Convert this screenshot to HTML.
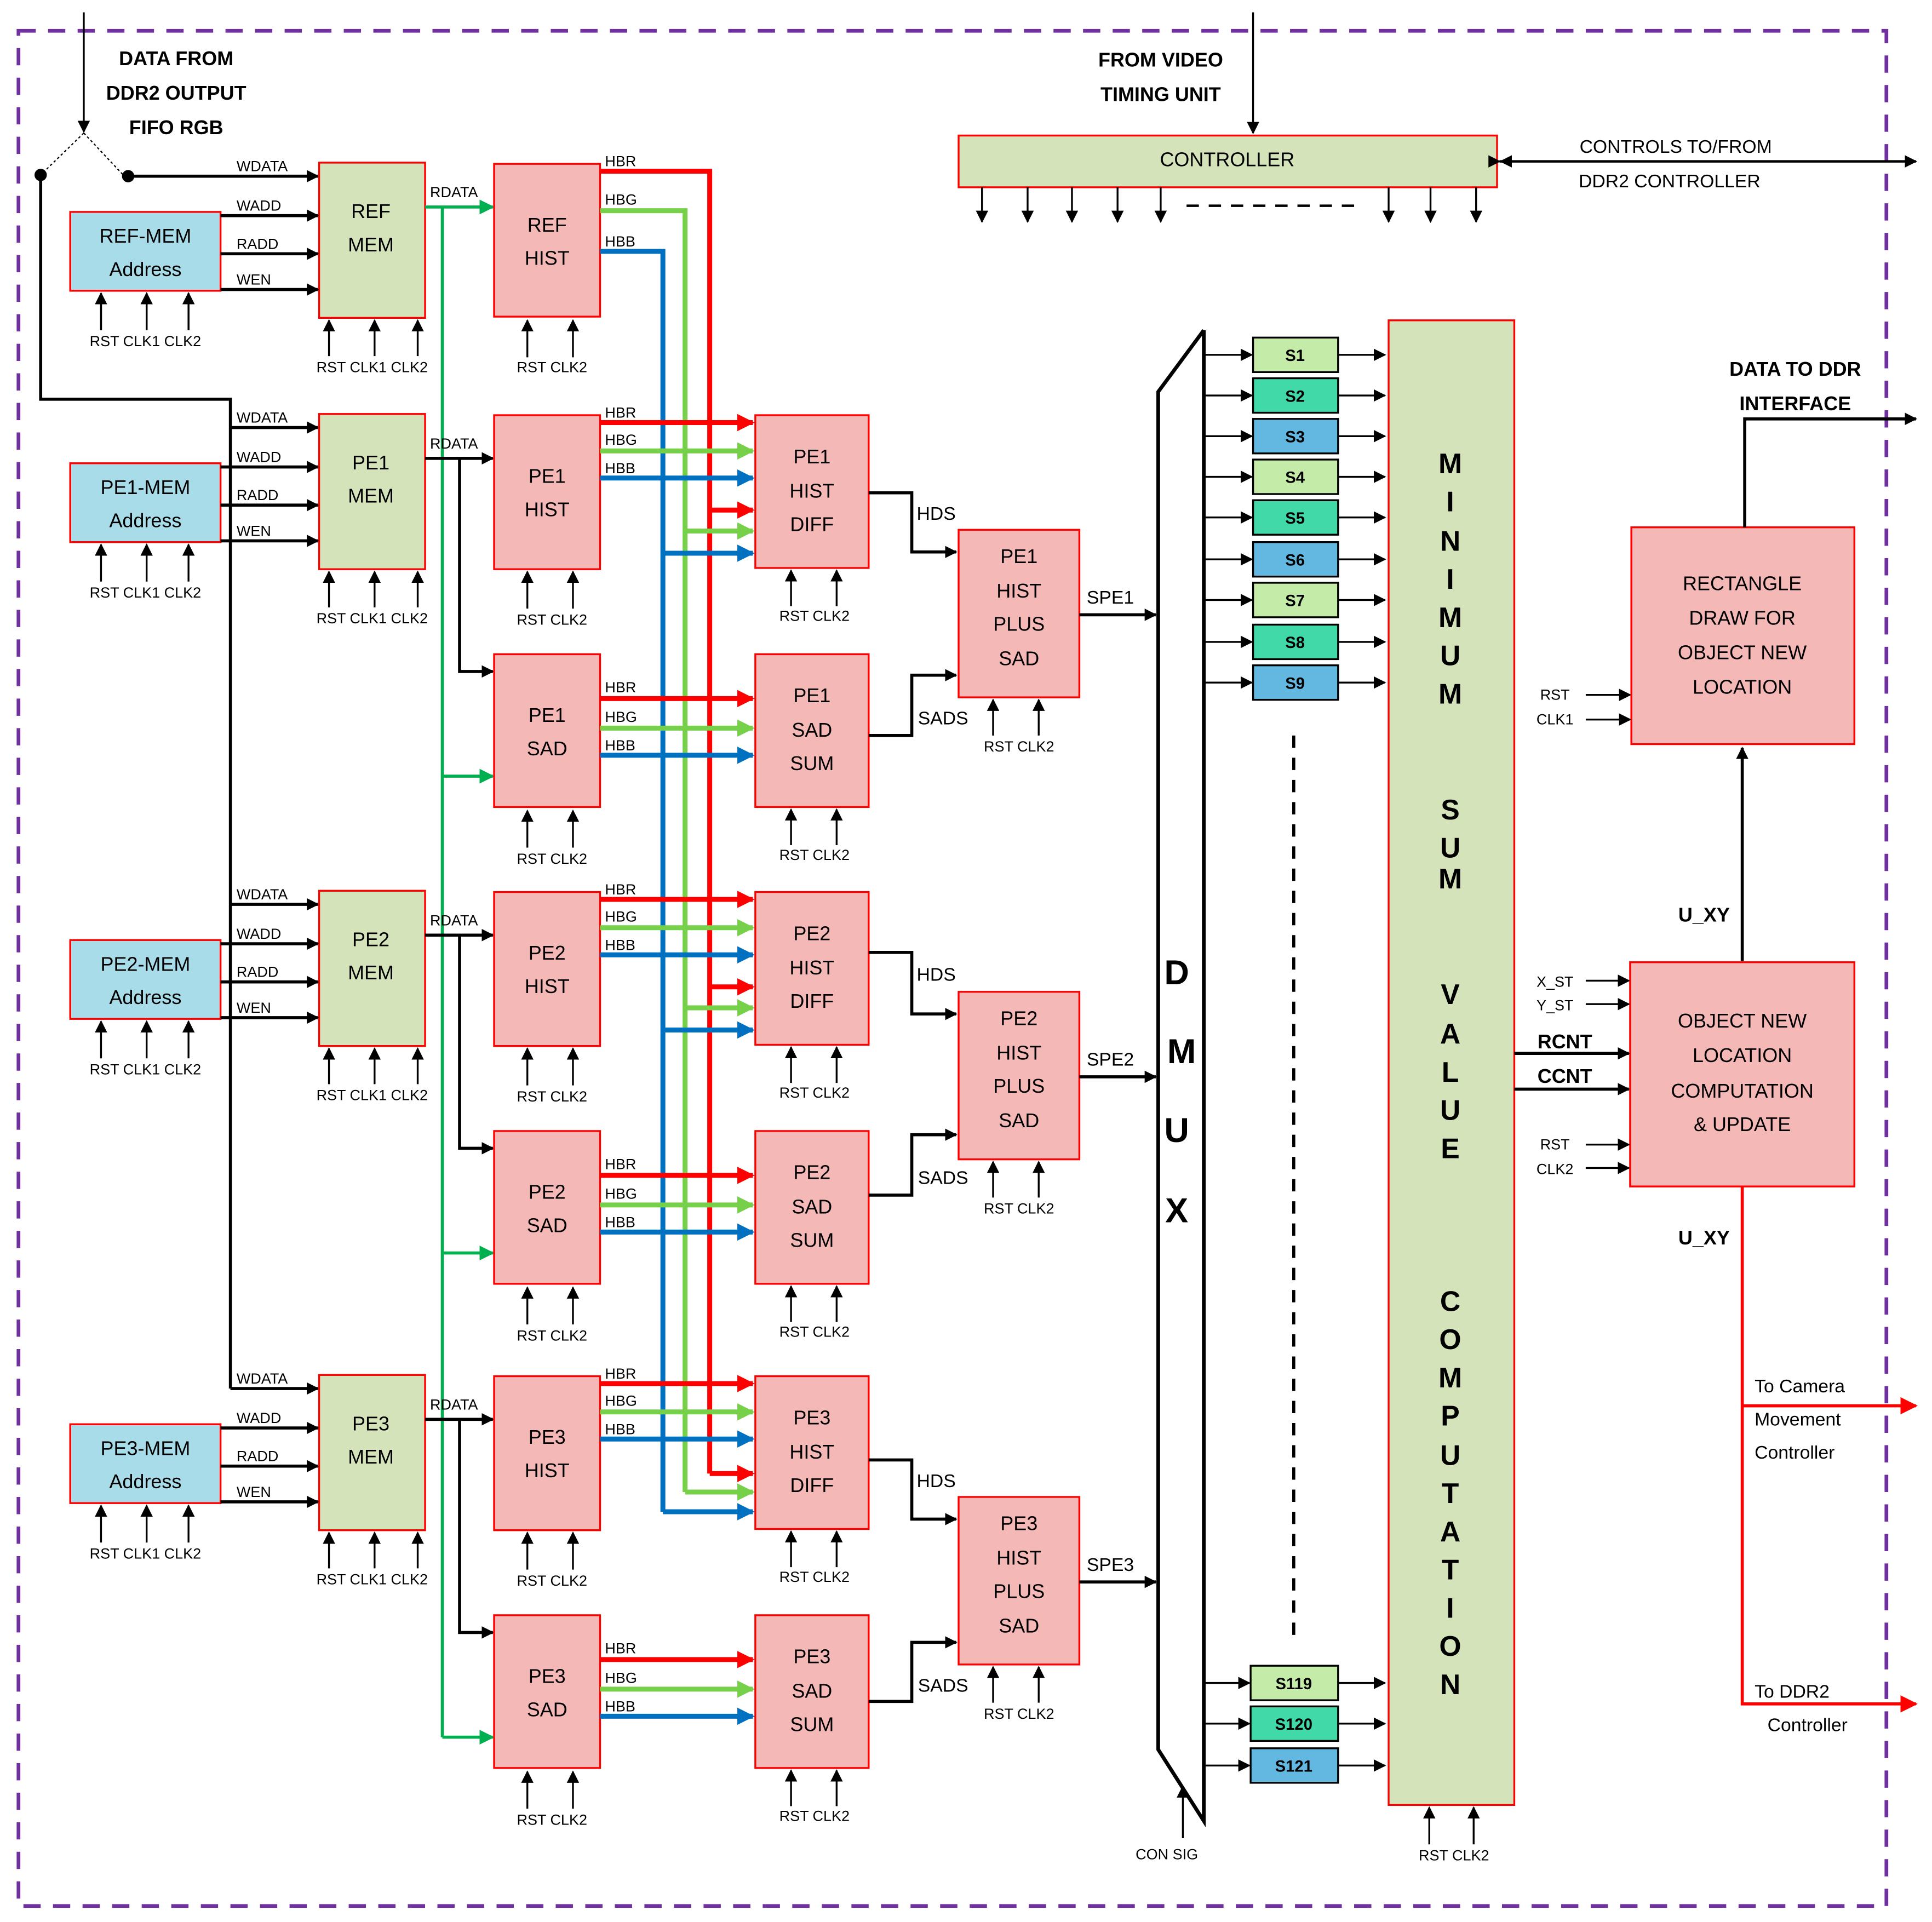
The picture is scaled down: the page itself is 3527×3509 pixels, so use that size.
<!DOCTYPE html>
<html><head><meta charset="utf-8"><style>
html,body{margin:0;padding:0;background:#fff;}
svg{display:block;}
text{font-family:"Liberation Sans",sans-serif;fill:#000;}
.b{font-size:16px;text-anchor:middle;}
.s{font-size:12px;}
.sc{font-size:12px;text-anchor:middle;}
.h{font-size:16px;font-weight:bold;text-anchor:middle;}
.k{stroke:#000;stroke-width:2.5;fill:none;}
.t{stroke:#000;stroke-width:1.5;fill:none;}
.gm{fill:#D4E3BA;stroke:#f00;stroke-width:1.5;}
.pk{fill:#F4B8B6;stroke:#f00;stroke-width:1.5;}
.ad{fill:#A8DCE8;stroke:#f00;stroke-width:1.5;}
.R{stroke:#f00;stroke-width:4;fill:none;}
.G{stroke:#76D04A;stroke-width:4;fill:none;}
.B{stroke:#0070C0;stroke-width:4;fill:none;}
.D{stroke:#00B050;stroke-width:2.5;fill:none;}
</style></head><body>
<svg width="3527" height="3509" viewBox="0 0 1568 1560" xmlns="http://www.w3.org/2000/svg">
<defs>
<marker id="a" viewBox="0 0 10 10" refX="9" refY="5" markerWidth="10" markerHeight="10" markerUnits="userSpaceOnUse" orient="auto"><path d="M0,0L10,5L0,10z" fill="#000"/></marker>
<marker id="r" viewBox="0 0 10 10" refX="9" refY="5" markerWidth="14" markerHeight="14" markerUnits="userSpaceOnUse" orient="auto"><path d="M0,0L10,5L0,10z" fill="#f00"/></marker>
<marker id="g" viewBox="0 0 10 10" refX="9" refY="5" markerWidth="14" markerHeight="14" markerUnits="userSpaceOnUse" orient="auto"><path d="M0,0L10,5L0,10z" fill="#76D04A"/></marker>
<marker id="bl" viewBox="0 0 10 10" refX="9" refY="5" markerWidth="14" markerHeight="14" markerUnits="userSpaceOnUse" orient="auto"><path d="M0,0L10,5L0,10z" fill="#0070C0"/></marker>
<marker id="d" viewBox="0 0 10 10" refX="9" refY="5" markerWidth="12" markerHeight="12" markerUnits="userSpaceOnUse" orient="auto"><path d="M0,0L10,5L0,10z" fill="#00B050"/></marker>
</defs>
<rect width="1568" height="1560" fill="#fff"/>
<rect x="15" y="25" width="1516" height="1522" fill="none" stroke="#7030A0" stroke-width="3" stroke-dasharray="14 10"/>

<!-- input -->
<line class="t" x1="68" y1="10" x2="68" y2="107" marker-end="url(#a)"/>
<text class="h" x="143" y="53">DATA FROM</text>
<text class="h" x="143" y="81">DDR2 OUTPUT</text>
<text class="h" x="143" y="109">FIFO RGB</text>
<path d="M68,108L33,142M68,108L100,142" stroke="#000" stroke-width="1" stroke-dasharray="2 2" fill="none"/>
<circle cx="33" cy="142" r="5"/><circle cx="104" cy="143" r="5"/>
<line class="k" x1="104" y1="143" x2="258" y2="143" marker-end="url(#a)"/>
<polyline class="k" points="33,142 33,324 187,324 187,1127"/>

<!-- REF row -->
<rect class="ad" x="57" y="172" width="122" height="64"/>
<text class="b" x="118" y="197">REF-MEM</text><text class="b" x="118" y="224">Address</text>
<rect class="gm" x="259" y="132" width="86" height="126"/>
<text class="b" x="301" y="177">REF</text><text class="b" x="301" y="204">MEM</text>
<text class="s" x="192" y="139">WDATA</text>
<line class="k" x1="179" y1="175" x2="258" y2="175" marker-end="url(#a)"/><text class="s" x="192" y="171">WADD</text>
<line class="k" x1="179" y1="206" x2="258" y2="206" marker-end="url(#a)"/><text class="s" x="192" y="202">RADD</text>
<line class="k" x1="179" y1="235" x2="258" y2="235" marker-end="url(#a)"/><text class="s" x="192" y="231">WEN</text>
<path class="t" d="M82,268V238M119,268V238M153,268V238" marker-end="url(#a)"/>
<line class="t" x1="82" y1="268" x2="82" y2="238" marker-end="url(#a)"/><line class="t" x1="119" y1="268" x2="119" y2="238" marker-end="url(#a)"/><line class="t" x1="153" y1="268" x2="153" y2="238" marker-end="url(#a)"/>
<text class="sc" x="118" y="281">RST CLK1 CLK2</text>
<line class="t" x1="267" y1="289" x2="267" y2="260" marker-end="url(#a)"/><line class="t" x1="304" y1="289" x2="304" y2="260" marker-end="url(#a)"/><line class="t" x1="339" y1="289" x2="339" y2="260" marker-end="url(#a)"/>
<text class="sc" x="302" y="302">RST CLK1 CLK2</text>
<line class="D" x1="345" y1="168" x2="400" y2="168" marker-end="url(#d)"/>
<text class="s" x="349" y="160">RDATA</text>
<line class="D" x1="359" y1="168" x2="359" y2="1410"/>
<line class="D" x1="359" y1="630" x2="400" y2="630" marker-end="url(#d)"/>
<line class="D" x1="359" y1="1017" x2="400" y2="1017" marker-end="url(#d)"/>
<line class="D" x1="359" y1="1410" x2="400" y2="1410" marker-end="url(#d)"/>
<rect class="pk" x="401" y="133" width="86" height="124"/>
<text class="b" x="444" y="188">REF</text><text class="b" x="444" y="215">HIST</text>
<line class="t" x1="428" y1="290" x2="428" y2="260" marker-end="url(#a)"/><line class="t" x1="465" y1="290" x2="465" y2="260" marker-end="url(#a)"/>
<text class="sc" x="448" y="302">RST CLK2</text>
<polyline class="R" points="487,139 576,139 576,1196"/>
<polyline class="G" points="487,171 556,171 556,1211"/>
<polyline class="B" points="487,204 538,204 538,1227"/>
<text class="s" x="491" y="135">HBR</text><text class="s" x="491" y="166">HBG</text><text class="s" x="491" y="200">HBB</text>

<!-- PE rows -->
<g id="pe1">
<line class="k" x1="187" y1="347" x2="258" y2="347" marker-end="url(#a)"/><text class="s" x="192" y="343">WDATA</text>
<rect class="ad" x="57" y="376" width="122" height="64"/>
<text class="b" x="118" y="401">PE1-MEM</text><text class="b" x="118" y="428">Address</text>
<rect class="gm" x="259" y="336" width="86" height="126"/>
<text class="b" x="301" y="381">PE1</text><text class="b" x="301" y="408">MEM</text>
<line class="k" x1="179" y1="379" x2="258" y2="379" marker-end="url(#a)"/><text class="s" x="192" y="375">WADD</text>
<line class="k" x1="179" y1="410" x2="258" y2="410" marker-end="url(#a)"/><text class="s" x="192" y="406">RADD</text>
<line class="k" x1="179" y1="439" x2="258" y2="439" marker-end="url(#a)"/><text class="s" x="192" y="435">WEN</text>
<line class="t" x1="82" y1="472" x2="82" y2="442" marker-end="url(#a)"/><line class="t" x1="119" y1="472" x2="119" y2="442" marker-end="url(#a)"/><line class="t" x1="153" y1="472" x2="153" y2="442" marker-end="url(#a)"/>
<text class="sc" x="118" y="485">RST CLK1 CLK2</text>
<line class="t" x1="267" y1="493" x2="267" y2="464" marker-end="url(#a)"/><line class="t" x1="304" y1="493" x2="304" y2="464" marker-end="url(#a)"/><line class="t" x1="339" y1="493" x2="339" y2="464" marker-end="url(#a)"/>
<text class="sc" x="302" y="506">RST CLK1 CLK2</text>
<line class="k" x1="345" y1="372" x2="400" y2="372" marker-end="url(#a)"/><text class="s" x="349" y="364">RDATA</text>
<polyline class="k" points="373,372 373,545 400,545" marker-end="url(#a)"/>
<rect class="pk" x="401" y="337" width="86" height="125"/>
<text class="b" x="444" y="392">PE1</text><text class="b" x="444" y="419">HIST</text>
<line class="t" x1="428" y1="494" x2="428" y2="464" marker-end="url(#a)"/><line class="t" x1="465" y1="494" x2="465" y2="464" marker-end="url(#a)"/>
<text class="sc" x="448" y="507">RST CLK2</text>
<rect class="pk" x="401" y="531" width="86" height="124"/>
<text class="b" x="444" y="586">PE1</text><text class="b" x="444" y="613">SAD</text>
<line class="t" x1="428" y1="688" x2="428" y2="658" marker-end="url(#a)"/><line class="t" x1="465" y1="688" x2="465" y2="658" marker-end="url(#a)"/>
<text class="sc" x="448" y="701">RST CLK2</text>
<line class="R" x1="487" y1="343" x2="611" y2="343" marker-end="url(#r)"/>
<line class="G" x1="487" y1="366" x2="611" y2="366" marker-end="url(#g)"/>
<line class="B" x1="487" y1="388" x2="611" y2="388" marker-end="url(#bl)"/>
<text class="s" x="491" y="339">HBR</text><text class="s" x="491" y="361">HBG</text><text class="s" x="491" y="384">HBB</text>
<line class="R" x1="487" y1="567" x2="611" y2="567" marker-end="url(#r)"/>
<line class="G" x1="487" y1="591" x2="611" y2="591" marker-end="url(#g)"/>
<line class="B" x1="487" y1="613" x2="611" y2="613" marker-end="url(#bl)"/>
<text class="s" x="491" y="562">HBR</text><text class="s" x="491" y="586">HBG</text><text class="s" x="491" y="609">HBB</text>
<line class="R" x1="576" y1="414" x2="611" y2="414" marker-end="url(#r)"/>
<line class="G" x1="556" y1="431" x2="611" y2="431" marker-end="url(#g)"/>
<line class="B" x1="538" y1="449" x2="611" y2="449" marker-end="url(#bl)"/>
<rect class="pk" x="613" y="337" width="92" height="124"/>
<text class="b" x="659" y="376">PE1</text><text class="b" x="659" y="404">HIST</text><text class="b" x="659" y="431">DIFF</text>
<line class="t" x1="642" y1="492" x2="642" y2="463" marker-end="url(#a)"/><line class="t" x1="679" y1="492" x2="679" y2="463" marker-end="url(#a)"/>
<text class="sc" x="661" y="504">RST CLK2</text>
<rect class="pk" x="613" y="531" width="92" height="124"/>
<text class="b" x="659" y="570">PE1</text><text class="b" x="659" y="598">SAD</text><text class="b" x="659" y="625">SUM</text>
<line class="t" x1="642" y1="686" x2="642" y2="657" marker-end="url(#a)"/><line class="t" x1="679" y1="686" x2="679" y2="657" marker-end="url(#a)"/>
<text class="sc" x="661" y="698">RST CLK2</text>
<polyline class="k" points="705,400 740,400 740,448 776,448" marker-end="url(#a)"/><text class="s" x="744" y="422" style="font-size:15px">HDS</text>
<polyline class="k" points="705,597 740,597 740,548 776,548" marker-end="url(#a)"/><text class="s" x="745" y="588" style="font-size:15px">SADS</text>
<rect class="pk" x="778" y="430" width="98" height="136"/>
<text class="b" x="827" y="457">PE1</text><text class="b" x="827" y="485">HIST</text><text class="b" x="827" y="512">PLUS</text><text class="b" x="827" y="540">SAD</text>
<line class="t" x1="806" y1="597" x2="806" y2="568" marker-end="url(#a)"/><line class="t" x1="843" y1="597" x2="843" y2="568" marker-end="url(#a)"/>
<text class="sc" x="827" y="610">RST CLK2</text>
<line class="k" x1="876" y1="499" x2="938" y2="499" marker-end="url(#a)"/><text class="s" x="882" y="490" style="font-size:15px">SPE1</text>
</g>

<g transform="translate(0,387)">
<line class="k" x1="187" y1="347" x2="258" y2="347" marker-end="url(#a)"/><text class="s" x="192" y="343">WDATA</text>
<rect class="ad" x="57" y="376" width="122" height="64"/>
<text class="b" x="118" y="401">PE2-MEM</text><text class="b" x="118" y="428">Address</text>
<rect class="gm" x="259" y="336" width="86" height="126"/>
<text class="b" x="301" y="381">PE2</text><text class="b" x="301" y="408">MEM</text>
<line class="k" x1="179" y1="379" x2="258" y2="379" marker-end="url(#a)"/><text class="s" x="192" y="375">WADD</text>
<line class="k" x1="179" y1="410" x2="258" y2="410" marker-end="url(#a)"/><text class="s" x="192" y="406">RADD</text>
<line class="k" x1="179" y1="439" x2="258" y2="439" marker-end="url(#a)"/><text class="s" x="192" y="435">WEN</text>
<line class="t" x1="82" y1="472" x2="82" y2="442" marker-end="url(#a)"/><line class="t" x1="119" y1="472" x2="119" y2="442" marker-end="url(#a)"/><line class="t" x1="153" y1="472" x2="153" y2="442" marker-end="url(#a)"/>
<text class="sc" x="118" y="485">RST CLK1 CLK2</text>
<line class="t" x1="267" y1="493" x2="267" y2="464" marker-end="url(#a)"/><line class="t" x1="304" y1="493" x2="304" y2="464" marker-end="url(#a)"/><line class="t" x1="339" y1="493" x2="339" y2="464" marker-end="url(#a)"/>
<text class="sc" x="302" y="506">RST CLK1 CLK2</text>
<line class="k" x1="345" y1="372" x2="400" y2="372" marker-end="url(#a)"/><text class="s" x="349" y="364">RDATA</text>
<polyline class="k" points="373,372 373,545 400,545" marker-end="url(#a)"/>
<rect class="pk" x="401" y="337" width="86" height="125"/>
<text class="b" x="444" y="392">PE2</text><text class="b" x="444" y="419">HIST</text>
<line class="t" x1="428" y1="494" x2="428" y2="464" marker-end="url(#a)"/><line class="t" x1="465" y1="494" x2="465" y2="464" marker-end="url(#a)"/>
<text class="sc" x="448" y="507">RST CLK2</text>
<rect class="pk" x="401" y="531" width="86" height="124"/>
<text class="b" x="444" y="586">PE2</text><text class="b" x="444" y="613">SAD</text>
<line class="t" x1="428" y1="688" x2="428" y2="658" marker-end="url(#a)"/><line class="t" x1="465" y1="688" x2="465" y2="658" marker-end="url(#a)"/>
<text class="sc" x="448" y="701">RST CLK2</text>
<line class="R" x1="487" y1="343" x2="611" y2="343" marker-end="url(#r)"/>
<line class="G" x1="487" y1="366" x2="611" y2="366" marker-end="url(#g)"/>
<line class="B" x1="487" y1="388" x2="611" y2="388" marker-end="url(#bl)"/>
<text class="s" x="491" y="339">HBR</text><text class="s" x="491" y="361">HBG</text><text class="s" x="491" y="384">HBB</text>
<line class="R" x1="487" y1="567" x2="611" y2="567" marker-end="url(#r)"/>
<line class="G" x1="487" y1="591" x2="611" y2="591" marker-end="url(#g)"/>
<line class="B" x1="487" y1="613" x2="611" y2="613" marker-end="url(#bl)"/>
<text class="s" x="491" y="562">HBR</text><text class="s" x="491" y="586">HBG</text><text class="s" x="491" y="609">HBB</text>
<line class="R" x1="576" y1="414" x2="611" y2="414" marker-end="url(#r)"/>
<line class="G" x1="556" y1="431" x2="611" y2="431" marker-end="url(#g)"/>
<line class="B" x1="538" y1="449" x2="611" y2="449" marker-end="url(#bl)"/>
<rect class="pk" x="613" y="337" width="92" height="124"/>
<text class="b" x="659" y="376">PE2</text><text class="b" x="659" y="404">HIST</text><text class="b" x="659" y="431">DIFF</text>
<line class="t" x1="642" y1="492" x2="642" y2="463" marker-end="url(#a)"/><line class="t" x1="679" y1="492" x2="679" y2="463" marker-end="url(#a)"/>
<text class="sc" x="661" y="504">RST CLK2</text>
<rect class="pk" x="613" y="531" width="92" height="124"/>
<text class="b" x="659" y="570">PE2</text><text class="b" x="659" y="598">SAD</text><text class="b" x="659" y="625">SUM</text>
<line class="t" x1="642" y1="686" x2="642" y2="657" marker-end="url(#a)"/><line class="t" x1="679" y1="686" x2="679" y2="657" marker-end="url(#a)"/>
<text class="sc" x="661" y="698">RST CLK2</text>
</g>
<g transform="translate(0,375)">
<polyline class="k" points="705,398 740,398 740,448 776,448" marker-end="url(#a)"/><text class="s" x="744" y="421" style="font-size:15px">HDS</text>
<polyline class="k" points="705,595 740,595 740,546 776,546" marker-end="url(#a)"/><text class="s" x="745" y="586" style="font-size:15px">SADS</text>
<rect class="pk" x="778" y="430" width="98" height="136"/>
<text class="b" x="827" y="457">PE2</text><text class="b" x="827" y="485">HIST</text><text class="b" x="827" y="512">PLUS</text><text class="b" x="827" y="540">SAD</text>
<line class="t" x1="806" y1="597" x2="806" y2="568" marker-end="url(#a)"/><line class="t" x1="843" y1="597" x2="843" y2="568" marker-end="url(#a)"/>
<text class="sc" x="827" y="610">RST CLK2</text>
<line class="k" x1="876" y1="499" x2="938" y2="499" marker-end="url(#a)"/><text class="s" x="882" y="490" style="font-size:15px">SPE2</text>
</g>

<g transform="translate(0,780)">
<line class="k" x1="187" y1="347" x2="258" y2="347" marker-end="url(#a)"/><text class="s" x="192" y="343">WDATA</text>
<rect class="ad" x="57" y="376" width="122" height="64"/>
<text class="b" x="118" y="401">PE3-MEM</text><text class="b" x="118" y="428">Address</text>
<rect class="gm" x="259" y="336" width="86" height="126"/>
<text class="b" x="301" y="381">PE3</text><text class="b" x="301" y="408">MEM</text>
<line class="k" x1="179" y1="379" x2="258" y2="379" marker-end="url(#a)"/><text class="s" x="192" y="375">WADD</text>
<line class="k" x1="179" y1="410" x2="258" y2="410" marker-end="url(#a)"/><text class="s" x="192" y="406">RADD</text>
<line class="k" x1="179" y1="439" x2="258" y2="439" marker-end="url(#a)"/><text class="s" x="192" y="435">WEN</text>
<line class="t" x1="82" y1="472" x2="82" y2="442" marker-end="url(#a)"/><line class="t" x1="119" y1="472" x2="119" y2="442" marker-end="url(#a)"/><line class="t" x1="153" y1="472" x2="153" y2="442" marker-end="url(#a)"/>
<text class="sc" x="118" y="485">RST CLK1 CLK2</text>
<line class="t" x1="267" y1="493" x2="267" y2="464" marker-end="url(#a)"/><line class="t" x1="304" y1="493" x2="304" y2="464" marker-end="url(#a)"/><line class="t" x1="339" y1="493" x2="339" y2="464" marker-end="url(#a)"/>
<text class="sc" x="302" y="506">RST CLK1 CLK2</text>
<line class="k" x1="345" y1="372" x2="400" y2="372" marker-end="url(#a)"/><text class="s" x="349" y="364">RDATA</text>
<polyline class="k" points="373,372 373,545 400,545" marker-end="url(#a)"/>
<rect class="pk" x="401" y="337" width="86" height="125"/>
<text class="b" x="444" y="392">PE3</text><text class="b" x="444" y="419">HIST</text>
<line class="t" x1="428" y1="494" x2="428" y2="464" marker-end="url(#a)"/><line class="t" x1="465" y1="494" x2="465" y2="464" marker-end="url(#a)"/>
<text class="sc" x="448" y="507">RST CLK2</text>
<rect class="pk" x="401" y="531" width="86" height="124"/>
<text class="b" x="444" y="586">PE3</text><text class="b" x="444" y="613">SAD</text>
<line class="t" x1="428" y1="688" x2="428" y2="658" marker-end="url(#a)"/><line class="t" x1="465" y1="688" x2="465" y2="658" marker-end="url(#a)"/>
<text class="sc" x="448" y="701">RST CLK2</text>
<line class="R" x1="487" y1="343" x2="611" y2="343" marker-end="url(#r)"/>
<line class="G" x1="487" y1="366" x2="611" y2="366" marker-end="url(#g)"/>
<line class="B" x1="487" y1="388" x2="611" y2="388" marker-end="url(#bl)"/>
<text class="s" x="491" y="339">HBR</text><text class="s" x="491" y="361">HBG</text><text class="s" x="491" y="384">HBB</text>
<line class="R" x1="487" y1="567" x2="611" y2="567" marker-end="url(#r)"/>
<line class="G" x1="487" y1="591" x2="611" y2="591" marker-end="url(#g)"/>
<line class="B" x1="487" y1="613" x2="611" y2="613" marker-end="url(#bl)"/>
<text class="s" x="491" y="562">HBR</text><text class="s" x="491" y="586">HBG</text><text class="s" x="491" y="609">HBB</text>
<line class="R" x1="576" y1="416" x2="611" y2="416" marker-end="url(#r)"/>
<line class="G" x1="556" y1="431" x2="611" y2="431" marker-end="url(#g)"/>
<line class="B" x1="538" y1="447" x2="611" y2="447" marker-end="url(#bl)"/>
<rect class="pk" x="613" y="337" width="92" height="124"/>
<text class="b" x="659" y="376">PE3</text><text class="b" x="659" y="404">HIST</text><text class="b" x="659" y="431">DIFF</text>
<line class="t" x1="642" y1="492" x2="642" y2="463" marker-end="url(#a)"/><line class="t" x1="679" y1="492" x2="679" y2="463" marker-end="url(#a)"/>
<text class="sc" x="661" y="504">RST CLK2</text>
<rect class="pk" x="613" y="531" width="92" height="124"/>
<text class="b" x="659" y="570">PE3</text><text class="b" x="659" y="598">SAD</text><text class="b" x="659" y="625">SUM</text>
<line class="t" x1="642" y1="686" x2="642" y2="657" marker-end="url(#a)"/><line class="t" x1="679" y1="686" x2="679" y2="657" marker-end="url(#a)"/>
<text class="sc" x="661" y="698">RST CLK2</text>
</g>
<g transform="translate(0,785)">
<polyline class="k" points="705,400 740,400 740,448 776,448" marker-end="url(#a)"/><text class="s" x="744" y="422" style="font-size:15px">HDS</text>
<polyline class="k" points="705,596 740,596 740,548 776,548" marker-end="url(#a)"/><text class="s" x="745" y="588" style="font-size:15px">SADS</text>
<rect class="pk" x="778" y="430" width="98" height="136"/>
<text class="b" x="827" y="457">PE3</text><text class="b" x="827" y="485">HIST</text><text class="b" x="827" y="512">PLUS</text><text class="b" x="827" y="540">SAD</text>
<line class="t" x1="806" y1="597" x2="806" y2="568" marker-end="url(#a)"/><line class="t" x1="843" y1="597" x2="843" y2="568" marker-end="url(#a)"/>
<text class="sc" x="827" y="610">RST CLK2</text>
<line class="k" x1="876" y1="499" x2="938" y2="499" marker-end="url(#a)"/><text class="s" x="882" y="490" style="font-size:15px">SPE3</text>
</g>

<!-- DMUX -->
<polyline points="977,268 940,318 940,1420 977,1478 977,268" fill="none" stroke="#000" stroke-width="3"/>
<text x="955" y="799" style="font-size:28px;font-weight:bold;text-anchor:middle">D</text>
<text x="959" y="863" style="font-size:28px;font-weight:bold;text-anchor:middle">M</text>
<text x="955" y="927" style="font-size:28px;font-weight:bold;text-anchor:middle">U</text>
<text x="955" y="992" style="font-size:28px;font-weight:bold;text-anchor:middle">X</text>
<line class="t" x1="960" y1="1492" x2="960" y2="1450" marker-end="url(#a)"/>
<text class="sc" x="947" y="1509">CON SIG</text>

<!-- S boxes -->
<g font-size="13" font-weight="bold">
<rect x="1017" y="274" width="69" height="28" fill="#C5EBA8" stroke="#000" stroke-width="1.5"/><text x="1051" y="293" text-anchor="middle">S1</text>
<rect x="1017" y="307" width="69" height="28" fill="#42D9A8" stroke="#000" stroke-width="1.5"/><text x="1051" y="326" text-anchor="middle">S2</text>
<rect x="1017" y="340" width="69" height="28" fill="#63B8E2" stroke="#000" stroke-width="1.5"/><text x="1051" y="359" text-anchor="middle">S3</text>
<rect x="1017" y="373" width="69" height="28" fill="#C5EBA8" stroke="#000" stroke-width="1.5"/><text x="1051" y="392" text-anchor="middle">S4</text>
<rect x="1017" y="406" width="69" height="28" fill="#42D9A8" stroke="#000" stroke-width="1.5"/><text x="1051" y="425" text-anchor="middle">S5</text>
<rect x="1017" y="440" width="69" height="28" fill="#63B8E2" stroke="#000" stroke-width="1.5"/><text x="1051" y="459" text-anchor="middle">S6</text>
<rect x="1017" y="473" width="69" height="28" fill="#C5EBA8" stroke="#000" stroke-width="1.5"/><text x="1051" y="492" text-anchor="middle">S7</text>
<rect x="1017" y="507" width="69" height="28" fill="#42D9A8" stroke="#000" stroke-width="1.5"/><text x="1051" y="526" text-anchor="middle">S8</text>
<rect x="1017" y="540" width="69" height="28" fill="#63B8E2" stroke="#000" stroke-width="1.5"/><text x="1051" y="559" text-anchor="middle">S9</text>
<rect x="1015" y="1352" width="71" height="28" fill="#C5EBA8" stroke="#000" stroke-width="1.5"/><text x="1050" y="1371" text-anchor="middle">S119</text>
<rect x="1015" y="1385" width="71" height="28" fill="#42D9A8" stroke="#000" stroke-width="1.5"/><text x="1050" y="1404" text-anchor="middle">S120</text>
<rect x="1015" y="1419" width="71" height="28" fill="#63B8E2" stroke="#000" stroke-width="1.5"/><text x="1050" y="1438" text-anchor="middle">S121</text>
</g>
<g class="t">
<line x1="977" y1="288" x2="1016" y2="288" marker-end="url(#a)"/><line x1="1086" y1="288" x2="1124" y2="288" marker-end="url(#a)"/>
<line x1="977" y1="321" x2="1016" y2="321" marker-end="url(#a)"/><line x1="1086" y1="321" x2="1124" y2="321" marker-end="url(#a)"/>
<line x1="977" y1="354" x2="1016" y2="354" marker-end="url(#a)"/><line x1="1086" y1="354" x2="1124" y2="354" marker-end="url(#a)"/>
<line x1="977" y1="387" x2="1016" y2="387" marker-end="url(#a)"/><line x1="1086" y1="387" x2="1124" y2="387" marker-end="url(#a)"/>
<line x1="977" y1="420" x2="1016" y2="420" marker-end="url(#a)"/><line x1="1086" y1="420" x2="1124" y2="420" marker-end="url(#a)"/>
<line x1="977" y1="454" x2="1016" y2="454" marker-end="url(#a)"/><line x1="1086" y1="454" x2="1124" y2="454" marker-end="url(#a)"/>
<line x1="977" y1="487" x2="1016" y2="487" marker-end="url(#a)"/><line x1="1086" y1="487" x2="1124" y2="487" marker-end="url(#a)"/>
<line x1="977" y1="521" x2="1016" y2="521" marker-end="url(#a)"/><line x1="1086" y1="521" x2="1124" y2="521" marker-end="url(#a)"/>
<line x1="977" y1="554" x2="1016" y2="554" marker-end="url(#a)"/><line x1="1086" y1="554" x2="1124" y2="554" marker-end="url(#a)"/>
<line x1="977" y1="1366" x2="1014" y2="1366" marker-end="url(#a)"/><line x1="1086" y1="1366" x2="1124" y2="1366" marker-end="url(#a)"/>
<line x1="977" y1="1399" x2="1014" y2="1399" marker-end="url(#a)"/><line x1="1086" y1="1399" x2="1124" y2="1399" marker-end="url(#a)"/>
<line x1="977" y1="1433" x2="1014" y2="1433" marker-end="url(#a)"/><line x1="1086" y1="1433" x2="1124" y2="1433" marker-end="url(#a)"/>
</g>
<line x1="1050" y1="597" x2="1050" y2="1330" stroke="#000" stroke-width="2.5" stroke-dasharray="10 8"/>

<!-- minimum sum -->
<rect class="gm" x="1127" y="260" width="102" height="1205"/>
<g style="font-size:23px;font-weight:bold;text-anchor:middle">
<text x="1177" y="384">M</text><text x="1177" y="415">I</text><text x="1177" y="447">N</text><text x="1177" y="478">I</text><text x="1177" y="509">M</text><text x="1177" y="540">U</text><text x="1177" y="571">M</text>
<text x="1177" y="665">S</text><text x="1177" y="696">U</text><text x="1177" y="721">M</text>
<text x="1177" y="815">V</text><text x="1177" y="847">A</text><text x="1177" y="878">L</text><text x="1177" y="909">U</text><text x="1177" y="940">E</text>
<text x="1177" y="1064">C</text><text x="1177" y="1095">O</text><text x="1177" y="1126">M</text><text x="1177" y="1157">P</text><text x="1177" y="1189">U</text><text x="1177" y="1220">T</text><text x="1177" y="1251">A</text><text x="1177" y="1282">T</text><text x="1177" y="1313">I</text><text x="1177" y="1344">O</text><text x="1177" y="1375">N</text>
</g>
<line class="t" x1="1160" y1="1497" x2="1160" y2="1467" marker-end="url(#a)"/><line class="t" x1="1196" y1="1497" x2="1196" y2="1467" marker-end="url(#a)"/>
<text class="sc" x="1180" y="1510">RST CLK2</text>

<!-- controller -->
<line class="t" x1="1017" y1="10" x2="1017" y2="108" marker-end="url(#a)"/>
<text class="h" x="942" y="54">FROM VIDEO</text><text class="h" x="942" y="82">TIMING UNIT</text>
<rect class="gm" x="778" y="110" width="437" height="42"/>
<text class="b" x="996" y="135">CONTROLLER</text>
<g class="t">
<line x1="797" y1="152" x2="797" y2="180" marker-end="url(#a)"/><line x1="834" y1="152" x2="834" y2="180" marker-end="url(#a)"/><line x1="870" y1="152" x2="870" y2="180" marker-end="url(#a)"/><line x1="907" y1="152" x2="907" y2="180" marker-end="url(#a)"/><line x1="942" y1="152" x2="942" y2="180" marker-end="url(#a)"/>
<line x1="1127" y1="152" x2="1127" y2="180" marker-end="url(#a)"/><line x1="1161" y1="152" x2="1161" y2="180" marker-end="url(#a)"/><line x1="1198" y1="152" x2="1198" y2="180" marker-end="url(#a)"/>
</g>
<line x1="963" y1="167" x2="1105" y2="167" stroke="#000" stroke-width="2" stroke-dasharray="10 8"/>
<line class="t" x1="1217" y1="131" x2="1555" y2="131" marker-end="url(#a)" marker-start="url(#a)" style="stroke-width:2"/>
<path d="M1217,131l10,-5v10z"/>
<text x="1360" y="124" style="font-size:15px;text-anchor:middle">CONTROLS TO/FROM</text>
<text x="1355" y="152" style="font-size:15px;text-anchor:middle">DDR2 CONTROLLER</text>

<!-- rectangle draw -->
<rect class="pk" x="1324" y="428" width="181" height="176"/>
<text class="b" x="1414" y="479">RECTANGLE</text><text class="b" x="1414" y="507">DRAW FOR</text><text class="b" x="1414" y="535">OBJECT NEW</text><text class="b" x="1414" y="563">LOCATION</text>
<text class="sc" x="1262" y="568">RST</text><text class="sc" x="1262" y="588">CLK1</text>
<line class="t" x1="1287" y1="564" x2="1323" y2="564" marker-end="url(#a)"/><line class="t" x1="1287" y1="584" x2="1323" y2="584" marker-end="url(#a)"/>
<polyline class="k" points="1416,428 1416,340 1555,340" marker-end="url(#a)"/>
<text class="h" x="1457" y="305">DATA TO DDR</text><text class="h" x="1457" y="333">INTERFACE</text>

<!-- object new location -->
<rect class="pk" x="1323" y="781" width="182" height="182"/>
<text class="b" x="1414" y="834">OBJECT NEW</text><text class="b" x="1414" y="862">LOCATION</text><text class="b" x="1414" y="891">COMPUTATION</text><text class="b" x="1414" y="918">&amp; UPDATE</text>
<line class="k" x1="1414" y1="780" x2="1414" y2="607" marker-end="url(#a)"/>
<text class="h" x="1383" y="748">U_XY</text>
<text class="sc" x="1262" y="801">X_ST</text><text class="sc" x="1262" y="820">Y_ST</text>
<line class="t" x1="1287" y1="796" x2="1322" y2="796" marker-end="url(#a)"/><line class="t" x1="1287" y1="815" x2="1322" y2="815" marker-end="url(#a)"/>
<line class="k" x1="1229" y1="855" x2="1322" y2="855" marker-end="url(#a)"/><line class="k" x1="1229" y1="884" x2="1322" y2="884" marker-end="url(#a)"/>
<text class="h" x="1270" y="851">RCNT</text><text class="h" x="1270" y="879">CCNT</text>
<text class="sc" x="1262" y="933">RST</text><text class="sc" x="1262" y="953">CLK2</text>
<line class="t" x1="1287" y1="929" x2="1322" y2="929" marker-end="url(#a)"/><line class="t" x1="1287" y1="948" x2="1322" y2="948" marker-end="url(#a)"/>
<polyline points="1414,963 1414,1383 1555,1383" fill="none" stroke="#f00" stroke-width="2.5" marker-end="url(#r)"/>
<line x1="1414" y1="1141" x2="1555" y2="1141" stroke="#f00" stroke-width="2.5" marker-end="url(#r)"/>
<text class="h" x="1383" y="1010">U_XY</text>
<text x="1424" y="1130" style="font-size:15px">To Camera</text>
<text x="1424" y="1157" style="font-size:15px">Movement</text>
<text x="1424" y="1184" style="font-size:15px">Controller</text>
<text x="1424" y="1378" style="font-size:15px">To DDR2</text>
<text x="1467" y="1405" style="font-size:15px;text-anchor:middle">Controller</text>
</svg>
</body></html>
